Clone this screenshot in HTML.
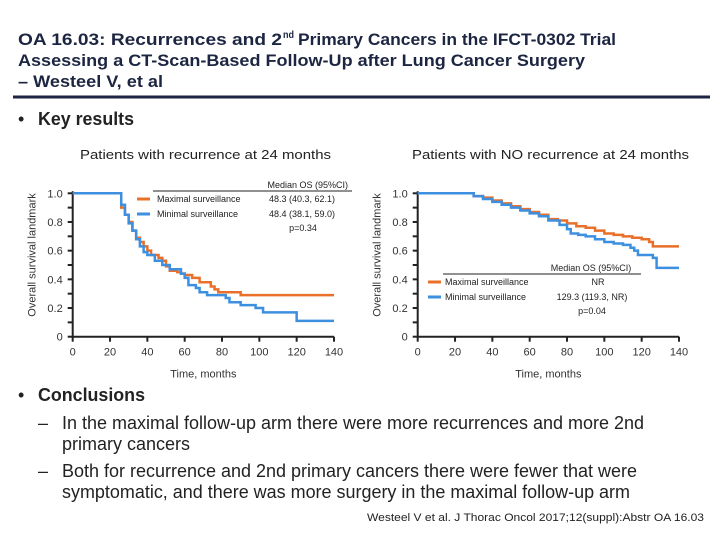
<!DOCTYPE html>
<html><head><meta charset="utf-8"><style>
html,body{margin:0;padding:0;background:#fff;}
svg{display:block;font-family:"Liberation Sans",Arial,sans-serif;}
</style></head><body>
<svg id="s" width="720" height="540" viewBox="0 0 720 540">
<g fill="#1c2541" font-weight="bold" font-size="17">
<text x="18" y="45" textLength="264" lengthAdjust="spacingAndGlyphs">OA 16.03: Recurrences and 2</text>
<text x="283" y="38" font-size="10" textLength="11" lengthAdjust="spacingAndGlyphs">nd</text>
<text x="298" y="45" textLength="318" lengthAdjust="spacingAndGlyphs">Primary Cancers in the IFCT-0302 Trial</text>
<text x="18" y="66" textLength="567" lengthAdjust="spacingAndGlyphs">Assessing a CT-Scan-Based Follow-Up after Lung Cancer Surgery</text>
<text x="18" y="87" textLength="145" lengthAdjust="spacingAndGlyphs">– Westeel V, et al</text>
</g>
<rect x="13" y="95.5" width="697" height="3" fill="#1c2541"/>
<g fill="#222" font-size="18" font-weight="bold">
<text x="18" y="125" font-weight="normal">•</text>
<text x="38" y="125" textLength="96" lengthAdjust="spacingAndGlyphs">Key results</text>
</g>
<g fill="#222" font-size="13">
<text x="80" y="159" textLength="251" lengthAdjust="spacingAndGlyphs">Patients with recurrence at 24 months</text>
<text x="412" y="159" textLength="277" lengthAdjust="spacingAndGlyphs">Patients with NO recurrence at 24 months</text>
</g>
<g id="left"></g>
<g id="right"></g>
<g font-size="9" fill="#222">
<line x1="153" y1="191" x2="352" y2="191" stroke="#222" stroke-width="1"/>
<text x="348" y="188" text-anchor="end">Median OS (95%CI)</text>
<line x1="137" y1="199" x2="150" y2="199" stroke="#e8702a" stroke-width="3"/>
<text x="157" y="202">Maximal surveillance</text>
<line x1="137" y1="214" x2="150" y2="214" stroke="#3d8fe0" stroke-width="3"/>
<text x="157" y="217">Minimal surveillance</text>
<text x="302" y="202" text-anchor="middle">48.3 (40.3, 62.1)</text>
<text x="302" y="217" text-anchor="middle">48.4 (38.1, 59.0)</text>
<text x="303" y="231" text-anchor="middle">p=0.34</text>
<line x1="443" y1="274" x2="641" y2="274" stroke="#222" stroke-width="1"/>
<text x="591" y="271" text-anchor="middle">Median OS (95%CI)</text>
<line x1="428" y1="282" x2="441" y2="282" stroke="#e8702a" stroke-width="3"/>
<text x="445" y="285">Maximal surveillance</text>
<line x1="428" y1="297" x2="441" y2="297" stroke="#3d8fe0" stroke-width="3"/>
<text x="445" y="300">Minimal surveillance</text>
<text x="598" y="285" text-anchor="middle">NR</text>
<text x="592" y="300" text-anchor="middle">129.3 (119.3, NR)</text>
<text x="592" y="314" text-anchor="middle">p=0.04</text>
</g>
<g fill="#222" font-size="18">
<text x="18" y="401">•</text>
<text x="38" y="401" font-weight="bold" textLength="107" lengthAdjust="spacingAndGlyphs">Conclusions</text>
<text x="38" y="429">–</text>
<text x="62" y="429" textLength="582" lengthAdjust="spacingAndGlyphs">In the maximal follow-up arm there were more recurrences and more 2nd</text>
<text x="62" y="450" textLength="128" lengthAdjust="spacingAndGlyphs">primary cancers</text>
<text x="38" y="477">–</text>
<text x="62" y="477" textLength="575" lengthAdjust="spacingAndGlyphs">Both for recurrence and 2nd primary cancers there were fewer that were</text>
<text x="62" y="498" textLength="568" lengthAdjust="spacingAndGlyphs">symptomatic, and there was more surgery in the maximal follow-up arm</text>
<text x="704" y="521" font-size="11" text-anchor="end" textLength="337" lengthAdjust="spacingAndGlyphs">Westeel V et al. J Thorac Oncol 2017;12(suppl):Abstr OA 16.03</text>
</g>
</svg>
<script>
const xTicks=[0,20,40,60,80,100,120,140];
const yTicks=[0,0.2,0.4,0.6,0.8,1.0];
const yTickLabels=["0","0.2","0.4","0.6","0.8","1.0"];
const leftMaxT=[0,24,26,28,30,32,34,36,38,40,42,46,48,50,52,56,58,60,64,68,72,74,76,78,90,140];
const leftMaxS=[1,1,0.9,0.85,0.8,0.74,0.69,0.66,0.63,0.6,0.57,0.55,0.53,0.49,0.46,0.45,0.44,0.43,0.41,0.38,0.38,0.35,0.33,0.31,0.29,0.29];
const leftMinT=[0,24,26,28,30,32,34,36,38,40,44,48,52,58,60,62,66,68,72,82,84,90,98,102,120,140];
const leftMinS=[1,1,0.92,0.85,0.79,0.74,0.68,0.63,0.59,0.57,0.53,0.5,0.47,0.44,0.41,0.36,0.34,0.31,0.29,0.27,0.24,0.22,0.2,0.17,0.11,0.11];
const rightMaxT=[0,24,30,35,40,45,50,55,60,65,70,75,80,85,90,95,100,105,110,115,120,124,126,140];
const rightMaxS=[1,1,0.98,0.97,0.95,0.93,0.91,0.89,0.87,0.85,0.82,0.81,0.79,0.77,0.76,0.74,0.72,0.71,0.7,0.69,0.68,0.66,0.63,0.63];
const rightMinT=[0,24,30,35,40,45,50,55,60,65,70,76,80,82,86,90,95,100,105,110,114,116,118,126,128,140];
const rightMinS=[1,1,0.98,0.96,0.94,0.92,0.9,0.88,0.86,0.84,0.81,0.78,0.75,0.72,0.71,0.7,0.68,0.66,0.65,0.64,0.62,0.6,0.57,0.55,0.48,0.48];
const NS="http://www.w3.org/2000/svg";
function mk(tag,attrs,parent){const e=document.createElementNS(NS,tag);for(const k in attrs)e.setAttribute(k,attrs[k]);parent.appendChild(e);return e;}
function chart(g,x0,x1,series){
  const y0=336.7,y1=193.3;
  const sx=t=>x0+(t/140)*(x1-x0);
  const sy=v=>y0-(v)*(y0-y1);
  const ax=mk('path',{d:`M${x0},${y1-2}V${y0}H${x1}`,stroke:'#222','stroke-width':2,fill:'none'},g);
  
  
  for(let i=0;i<=10;i++){const v=i/10;mk('line',{x1:x0-5,x2:x0,y1:sy(v),y2:sy(v),stroke:'#222','stroke-width':2},g);}
  yTicks.forEach((v,i)=>{const t=mk('text',{x:x0-10,y:sy(v)+4,'font-size':11,'text-anchor':'end',fill:'#333'},g);t.textContent=yTickLabels[i];
    
    });
  xTicks.forEach(v=>{mk('line',{x1:sx(v),x2:sx(v),y1:y0,y2:y0+5,stroke:'#222','stroke-width':2},g);
    const t=mk('text',{x:sx(v),y:y0+19,'font-size':11,'text-anchor':'middle',fill:'#333'},g);t.textContent=v;
    
    });
  const xl=mk('text',{x:(x0+x1)/2,y:y0+41,'font-size':11,'text-anchor':'middle',fill:'#333'},g);xl.textContent='Time, months';
  
  
  const cx=x0-37,cy=(y0+y1)/2-10;
  const yl=mk('text',{x:cx,y:cy,'font-size':11,'text-anchor':'middle',fill:'#333',transform:`rotate(-90 ${cx} ${cy})`},g);yl.textContent='Overall survival landmark';
  
  
  series.forEach(s=>{
    let d=`M${sx(s.t[0])},${sy(s.v[0])}`;
    for(let i=1;i<s.t.length;i++){d+=`H${sx(s.t[i])}V${sy(s.v[i])}`;}
    const p=mk('path',{d,stroke:s.c,'stroke-width':2.5,fill:'none'},g);
    
    
  });
}
chart(document.getElementById('left'),72.7,334,[
  {t:leftMaxT,v:leftMaxS,c:'#e8702a',n:'maximal-surveillance-curve'},
  {t:leftMinT,v:leftMinS,c:'#3d8fe0',n:'minimal-surveillance-curve'}]);
chart(document.getElementById('right'),417.7,679,[
  {t:rightMaxT,v:rightMaxS,c:'#e8702a',n:'maximal-surveillance-curve'},
  {t:rightMinT,v:rightMinS,c:'#3d8fe0',n:'minimal-surveillance-curve'}]);
</script>
</body></html>
